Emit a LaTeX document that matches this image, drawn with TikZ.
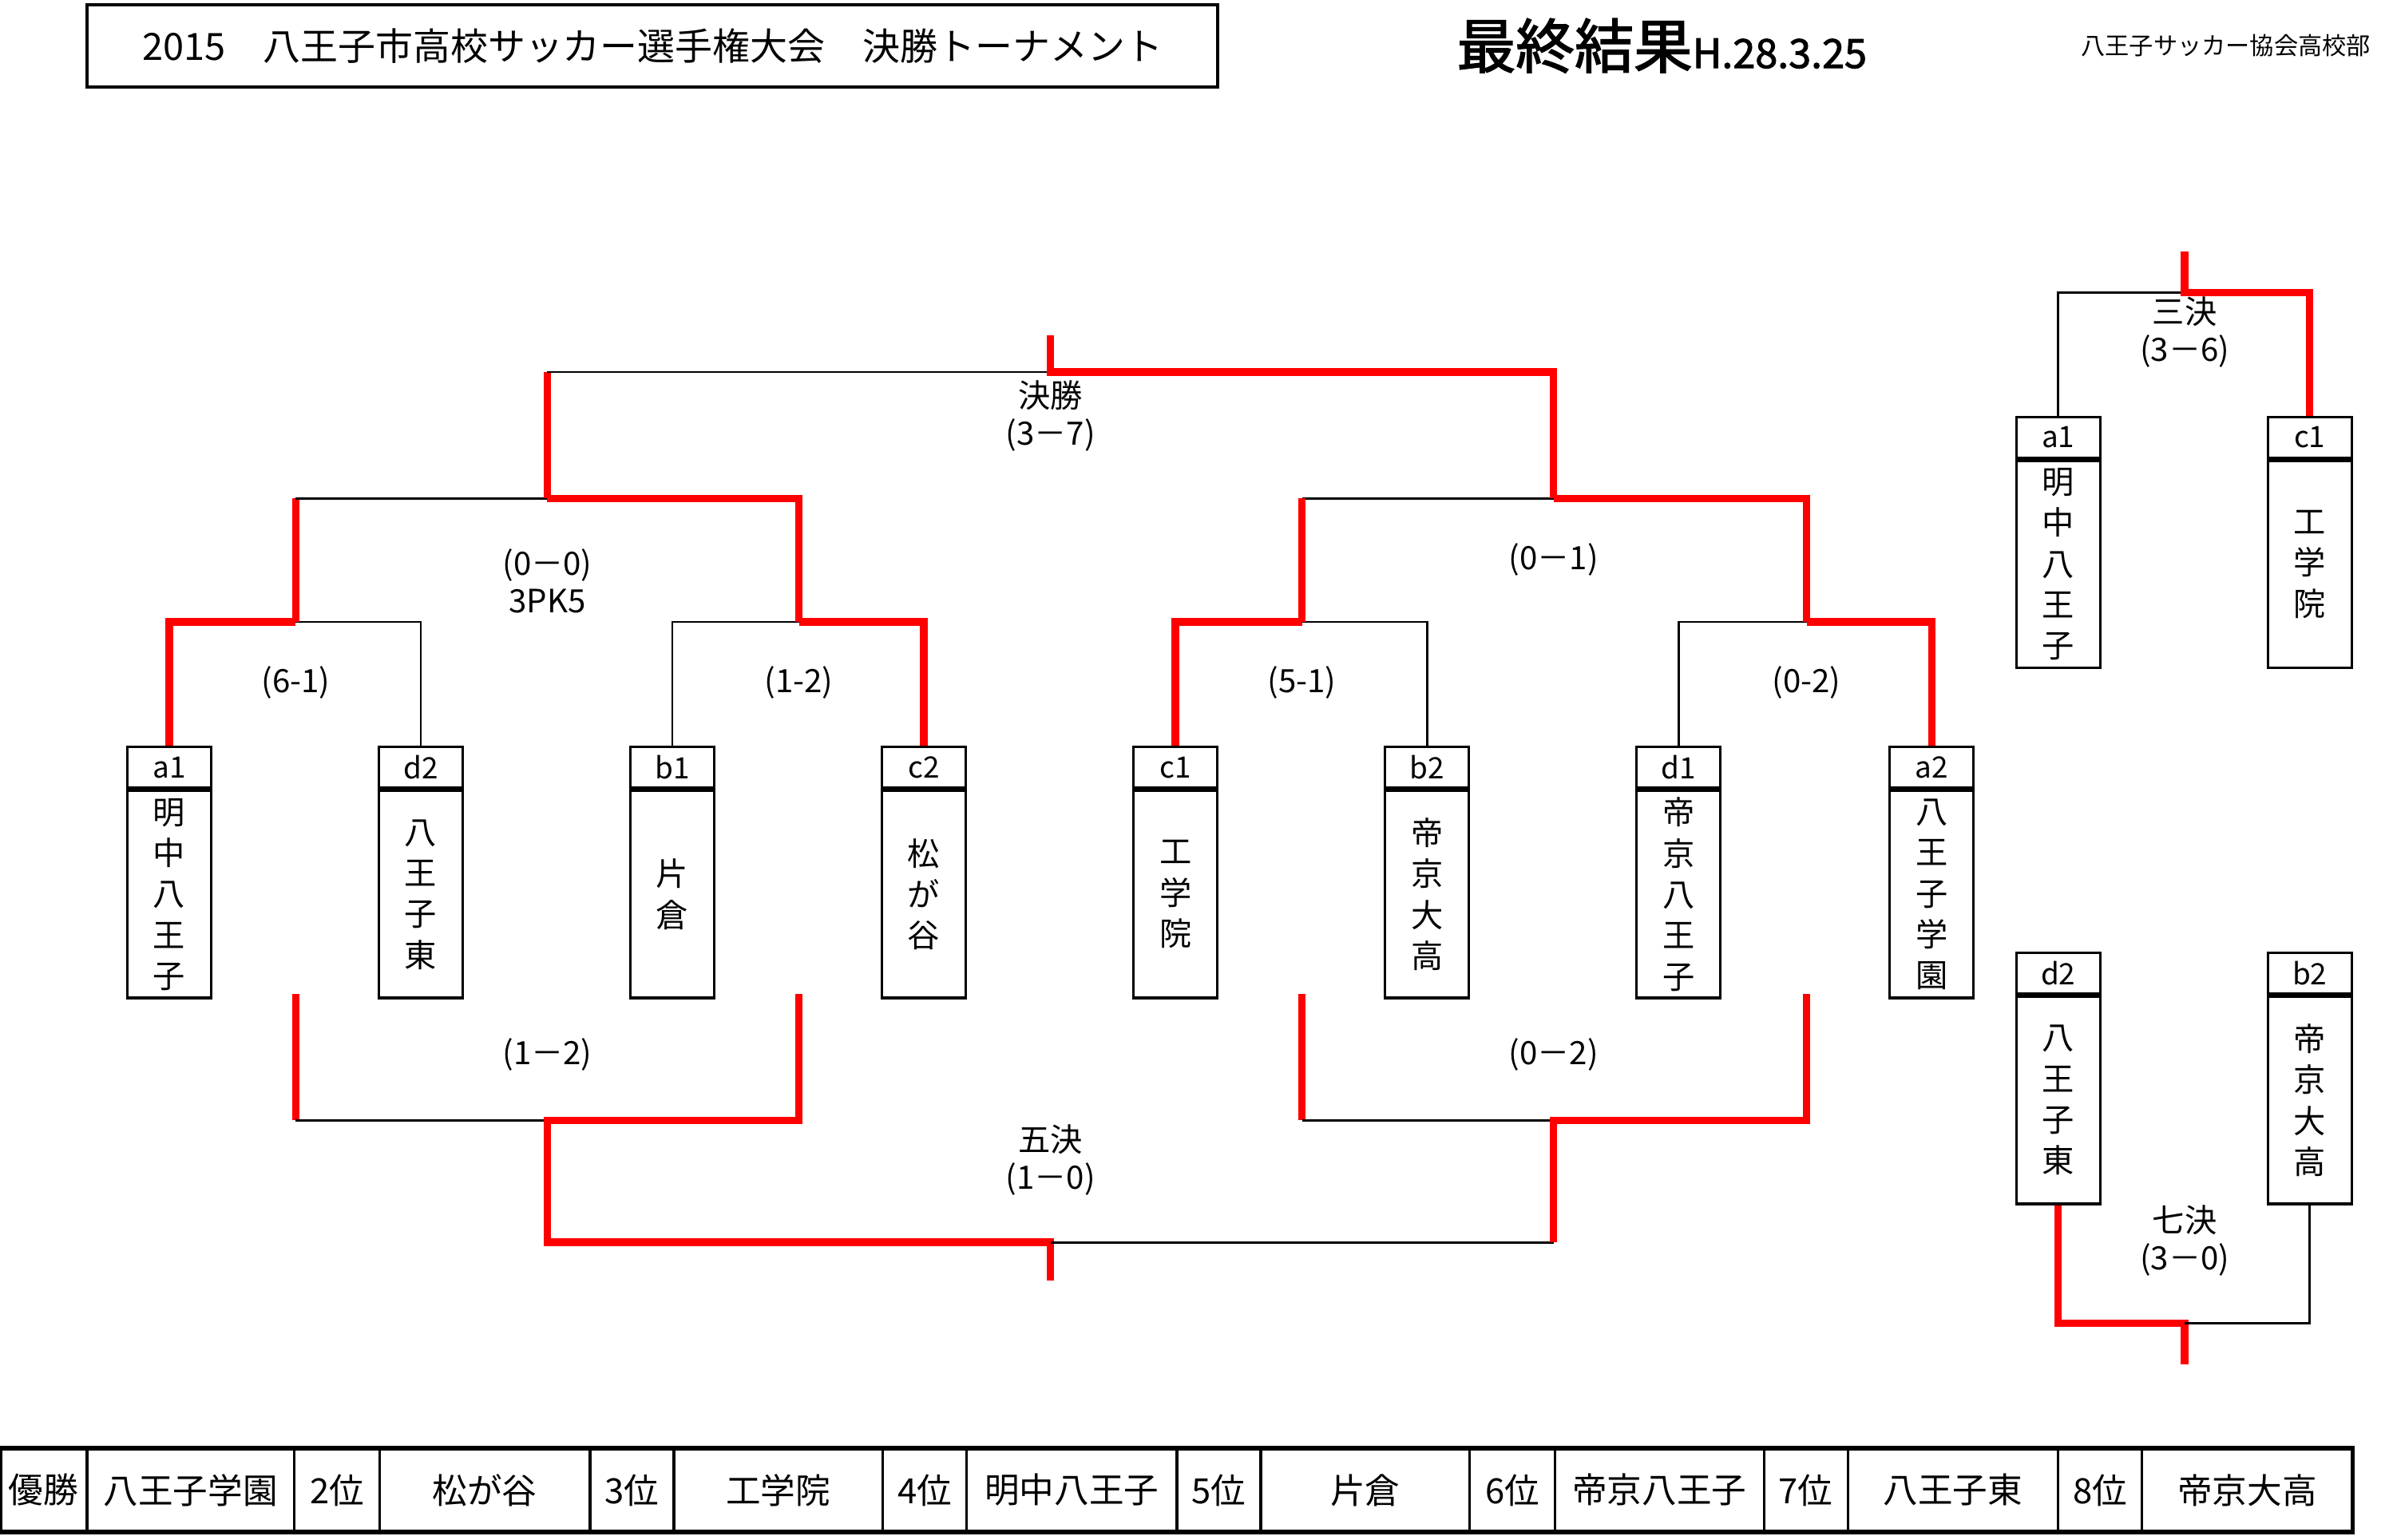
\documentclass[tikz,border=0pt]{standalone}
\usepackage{fontspec}
\setmainfont{Noto Sans CJK JP}[AutoFakeBold=2]
\usetikzlibrary{positioning}
\tikzset{
	lose/.style={black, line width=0.8pt},
	win/.style={red, line width=2.8pt},
	hdr/.style={draw, line width=1pt, minimum width=1.1cm, minimum height=0.54cm, inner sep=0pt, font=\fontsize{11}{12}\selectfont},
	body/.style={draw, line width=1pt, minimum width=1.1cm, minimum height=2.72cm, inner sep=0pt, align=center, font=\fontsize{12}{15.3}\selectfont},
	score/.style={font=\fontsize{12}{14}\selectfont, align=center},
	cell/.style={draw, line width=1pt, minimum height=1.1cm, inner sep=0pt, font=\fontsize{13}{14}\selectfont}
}
\begin{document}
\begin{tikzpicture}[x=0.02cm, y=-0.02cm]
\useasboundingbox (0,0) rectangle (1567,1010);
% header
\node[draw, line width=1.2pt, minimum width=14.84cm, minimum height=1.08cm, font=\fontsize{14}{16}\selectfont] (title) at (428,30) {2015　八王子市高校サッカー選手権大会　決勝トーナメント};
\node[font=\fontsize{22}{24}\selectfont\bfseries] (result) at (1090,30) {最終結果\fontsize{15}{16}\selectfont H.28.3.25};
\node[font=\fontsize{9}{10}\selectfont] (assoc) at (1460,30) {八王子サッカー協会高校部};
% teams
\foreach \n/\x/\l/\t in {a1/111/a1/{明\\中\\八\\王\\子}, d2/276/d2/{八\\王\\子\\東}, b1/441/b1/{片\\倉},
	c2/606/c2/{松\\が\\谷}, c1/771/c1/{工\\学\\院}, b2/936/b2/{帝\\京\\大\\高},
	d1/1101/d1/{帝\\京\\八\\王\\子}, a2/1267/a2/{八\\王\\子\\学\\園}}{
	\node[hdr] (h\n) at (\x,503.5) {\l};
	\node[body, below=0pt of h\n] (t\n) {\t};
}
\foreach \n/\x/\y/\l/\t in {sa/1350/287/a1/{明\\中\\八\\王\\子}, sc/1515/287/c1/{工\\学\\院},
	sd/1350/638.5/d2/{八\\王\\子\\東}, sb/1515/638.5/b2/{帝\\京\\大\\高}}{
	\node[hdr] (h\n) at (\x,\y) {\l};
	\node[body, below=0pt of h\n] (t\n) {\t};
}
% first round
\draw[win] (ha1.north) |- (194,408);
\draw[lose] (hd2.north) |- (194,408);
\draw[lose] (hb1.north) |- (524,408);
\draw[win] (hc2.north) |- (524,408);
\draw[win] (hc1.north) |- (854,408);
\draw[lose] (hb2.north) |- (854,408);
\draw[lose] (hd1.north) |- (1185,408);
\draw[win] (ha2.north) |- (1185,408);
\node[score] (s1) at (194,448) {(6-1)};
\node[score] (s2) at (524,448) {(1-2)};
\node[score] (s3) at (854,448) {(5-1)};
\node[score] (s4) at (1185,448) {(0-2)};
% semi
\draw[win] (194,408) -- (194,327);
\draw[lose] (194,327) -- (359,327);
\draw[win] (524,408) |- (359,327);
\draw[lose] (854,327) -- (1019,327);
\draw[win] (854,408) -- (854,327);
\draw[win] (1185,408) |- (1019,327);
\node[score] (s5) at (359,381) {(0－0)\\3PK5};
\node[score] (s6) at (1019,367) {(0－1)};
% final
\draw[win] (359,327) -- (359,244);
\draw[lose] (359,244) -- (689,244);
\draw[win] (1019,327) |- (689,244) -- (689,220);
\node[score] (s7) at (689,273) {決勝\\(3－7)};
% fifth place
\draw[win] (194,652) -- (194,735);
\draw[lose] (194,735) -- (359,735);
\draw[win] (524,652) |- (359,735) -- (359,815) -- (689,815) -- (689,840);
\draw[lose] (689,815) -- (1019,815);
\draw[win] (854,652) -- (854,735);
\draw[lose] (854,735) -- (1019,735);
\draw[win] (1185,652) |- (1019,735) -- (1019,815);
\node[score] (s8) at (359,692) {(1－2)};
\node[score] (s9) at (1019,692) {(0－2)};
\node[score] (s10) at (689,761) {五決\\(1－0)};
% third place
\draw[lose] (hsa.north) |- (1433,192);
\draw[win] (hsc.north) |- (1433,192) -- (1433,165);
\node[score] (s11) at (1433,218) {三決\\(3－6)};
% seventh place
\draw[win] (tsd.south) |- (1433,868) -- (1433,895);
\draw[lose] (tsb.south) |- (1433,868);
\node[score] (s12) at (1433,814) {七決\\(3－0)};
% ranking table
\foreach \a/\b/\t [count=\i] in {0/57/優勝, 57/193/八王子学園, 193/249/2位, 249/387/松が谷, 387/442/3位, 442/579/工学院,
	579/634/4位, 634/772/明中八王子, 772/827/5位, 827/964/片倉, 964/1020/6位, 1020/1157/帝京八王子,
	1157/1212/7位, 1212/1350/八王子東, 1350/1405/8位, 1405/1543/帝京大高}{
	\draw[line width=1pt] (\a,950) rectangle (\b,1005);
	\node[font=\fontsize{13}{14}\selectfont] (r\i) at ({(\a+\b)/2},977.5) {\t};
}
\draw[line width=1.6pt] (0,950) rectangle (1543,1005);
\end{tikzpicture}
\end{document}
